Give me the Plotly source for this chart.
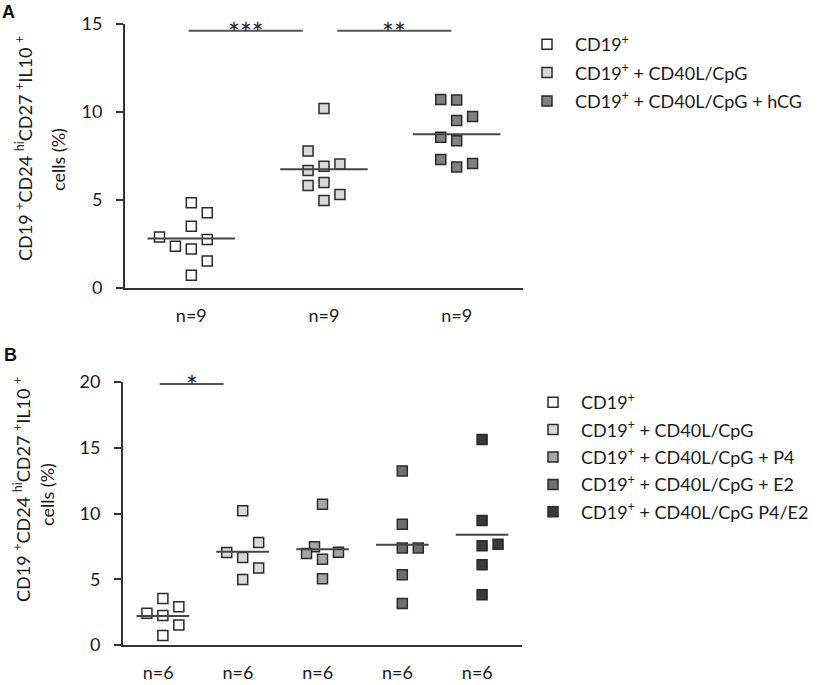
import plotly.graph_objects as go

FONT = "Lato"
W, H = 827, 685


def px(x):
    return x / W


def py(y):
    return 1 - y / H


# ---- panel A data ----
names_a = ["CD19<sup>+</sup>",
           "CD19<sup>+</sup> + CD40L/CpG",
           "CD19<sup>+</sup> + CD40L/CpG + hCG"]
ticks_a = ["n=9", "n=9", "n=9"]
a_cd19 = [4.85, 4.27, 3.51, 2.90, 2.75, 2.37, 2.22, 1.54, 0.72]
a_cpg = [10.2, 7.78, 7.04, 6.92, 6.68, 5.99, 5.82, 5.31, 4.97]
a_hcg = [10.71, 10.68, 9.75, 9.52, 8.57, 8.36, 7.30, 7.07, 6.88]
# beeswarm slot of each point (left/right of the group centre)
a_slots = [[0, 1, 0, -2, 1, -1, 0, 1, 0],
           [0, -1, 1, 0, -1, 0, -1, 1, 0],
           [-1, 0, 1, 0, -1, 0, -1, 1, 0]]
a_medians = [2.81, 6.75, 8.74]
a_sig_x = [[-0.02, 0.84], [1.10, 1.96]]
a_sig_y = 14.62
a_sig_text = ["***", "**"]

# ---- panel B data ----
names_b = ["CD19<sup>+</sup>",
           "CD19<sup>+</sup> + CD40L/CpG",
           "CD19<sup>+</sup> + CD40L/CpG + P4",
           "CD19<sup>+</sup> + CD40L/CpG + E2",
           "CD19<sup>+</sup> + CD40L/CpG P4/E2"]
ticks_b = ["n=6", "n=6", "n=6", "n=6", "n=6"]
b_cd19 = [3.54, 2.91, 2.41, 2.25, 1.52, 0.73]
b_cpg = [10.2, 7.80, 7.04, 6.66, 5.85, 4.99]
b_p4 = [10.71, 7.47, 6.96, 7.06, 6.53, 5.04]
b_e2 = [13.24, 9.19, 7.37, 7.37, 5.34, 3.16]
b_p4e2 = [15.62, 9.47, 7.54, 7.67, 6.10, 3.82]
b_slots = [[0, 1, -1, 0, 1, 0],
           [0, 1, -1, 0, 1, 0],
           [0, -0.5, -1, 1, 0, 0],
           [0, 0, 0, 1, 0, 0],
           [0, 0, 0, 1, 0, 0]]
b_medians = [2.20, 7.09, 7.29, 7.62, 8.38]
b_sig_x = [[-0.04, 0.76]]
b_sig_y = 19.85
b_sig_text = ["*"]

colors_a = ["#ffffff", "#d9d9d9", "#808080"]
colors_b = ["#ffffff", "#d9d9d9", "#a6a6a6", "#6e6e6e", "#3a3a3a"]

fig = go.Figure()


def add_panel(values, slots, medians, names, colors, step, xa, ya, legend):
    for i, vals in enumerate(values):
        xs = [i + s * step for s in slots[i]]
        fig.add_trace(go.Scatter(
            x=xs, y=vals, mode="markers", name=names[i],
            xaxis=xa, yaxis=ya, legend=legend, legendgroup=legend + str(i),
            marker=dict(symbol="square", size=10, color=colors[i],
                        line=dict(color="#2b2b2b", width=1.5))))
        fig.add_trace(go.Scatter(
            x=[i - 0.33, i + 0.33], y=[medians[i], medians[i]], mode="lines",
            xaxis=xa, yaxis=ya, showlegend=False, hoverinfo="skip",
            line=dict(color="#454545", width=2)))


def add_sig(sig_x, sig_y, texts, xa, ya):
    for xx, t in zip(sig_x, texts):
        fig.add_trace(go.Scatter(
            x=xx, y=[sig_y, sig_y], mode="lines", xaxis=xa, yaxis=ya,
            showlegend=False, hoverinfo="skip",
            line=dict(color="#555555", width=2)))
        fig.add_annotation(x=sum(xx) / 2, y=sig_y, xref=xa, yref=ya,
                           text=t, showarrow=False, yanchor="bottom",
                           yshift=-21, font=dict(family=FONT, size=28, color="#222"))


add_panel([a_cd19, a_cpg, a_hcg], a_slots, a_medians, names_a, colors_a,
          0.12, "x", "y", "legend")
add_panel([b_cd19, b_cpg, b_p4, b_e2, b_p4e2], b_slots, b_medians, names_b,
          colors_b, 0.2, "x2", "y2", "legend2")
add_sig(a_sig_x, a_sig_y, a_sig_text, "x", "y")
add_sig(b_sig_x, b_sig_y, b_sig_text, "x2", "y2")

axis_font = dict(family=FONT, size=18, color="#1a1a1a")
common_x = dict(showgrid=False, zeroline=False, showline=True, linecolor="#333",
                linewidth=2, ticks="", tickfont=axis_font, ticklabelstandoff=10,
                automargin=False)
common_y = dict(showgrid=False, zeroline=False, showline=True, linecolor="#333",
                linewidth=2, ticks="outside", ticklen=7, tickcolor="#333",
                tickwidth=1.5, tickfont=axis_font, ticklabelstandoff=10,
                automargin=False)
legend_font = dict(family=FONT, size=18, color="#1a1a1a")

fig.update_layout(
    width=W, height=H,
    margin=dict(l=0, r=0, t=0, b=0, autoexpand=False),
    plot_bgcolor="white", paper_bgcolor="white",
    font=dict(family=FONT, color="#1a1a1a"),
    xaxis=dict(common_x, domain=[px(125), px(523)], range=[-0.5, 2.5],
               tickvals=[0, 1, 2], ticktext=ticks_a, anchor="y"),
    yaxis=dict(common_y, domain=[py(288), py(24)], range=[0, 15],
               tickvals=[0, 5, 10, 15], anchor="x"),
    xaxis2=dict(common_x, domain=[px(123), px(522)], range=[-0.5, 4.5],
                tickvals=[i - 0.06 for i in range(5)], ticktext=ticks_b, anchor="y2"),
    yaxis2=dict(common_y, domain=[py(645), py(382)], range=[0, 20],
                tickvals=[0, 5, 10, 15, 20], anchor="x2"),
    legend=dict(x=px(519), y=py(26), xanchor="left", yanchor="top",
                font=legend_font, tracegroupgap=2, itemwidth=46,
                bgcolor="rgba(0,0,0,0)"),
    legend2=dict(x=px(525), y=py(384), xanchor="left", yanchor="top",
                 font=legend_font, tracegroupgap=1, itemwidth=46,
                 bgcolor="rgba(0,0,0,0)"),
)

title_l1 = "CD19 <sup>+</sup>CD24 <sup>hi</sup>CD27 <sup>+</sup>IL10 <sup>+</sup>"
title_l2 = "cells (%)"
title_font = dict(family=FONT, size=18, color="#1a1a1a")
for txt, cx, cy in [(title_l1, 24, 149), (title_l2, 58, 160),
                    (title_l1, 22, 490), (title_l2, 47, 495)]:
    fig.add_annotation(x=px(cx), y=py(cy), xref="paper", yref="paper",
                       text=txt, textangle=-90, showarrow=False,
                       xanchor="center", yanchor="middle", font=title_font)

for letter, lx, ly in [("A", 0, 12), ("B", 2, 355)]:
    fig.add_annotation(x=px(lx), y=py(ly), xref="paper", yref="paper",
                       text="<b>" + letter + "</b>", showarrow=False,
                       xanchor="left", yanchor="middle",
                       font=dict(family="Liberation Sans", size=18, color="#111"))

# drop the browser's default 8px body margin so the figure fills the window
fig.write_html("out.html", config={"displayModeBar": False},
               post_script="document.body.style.margin='0';")
